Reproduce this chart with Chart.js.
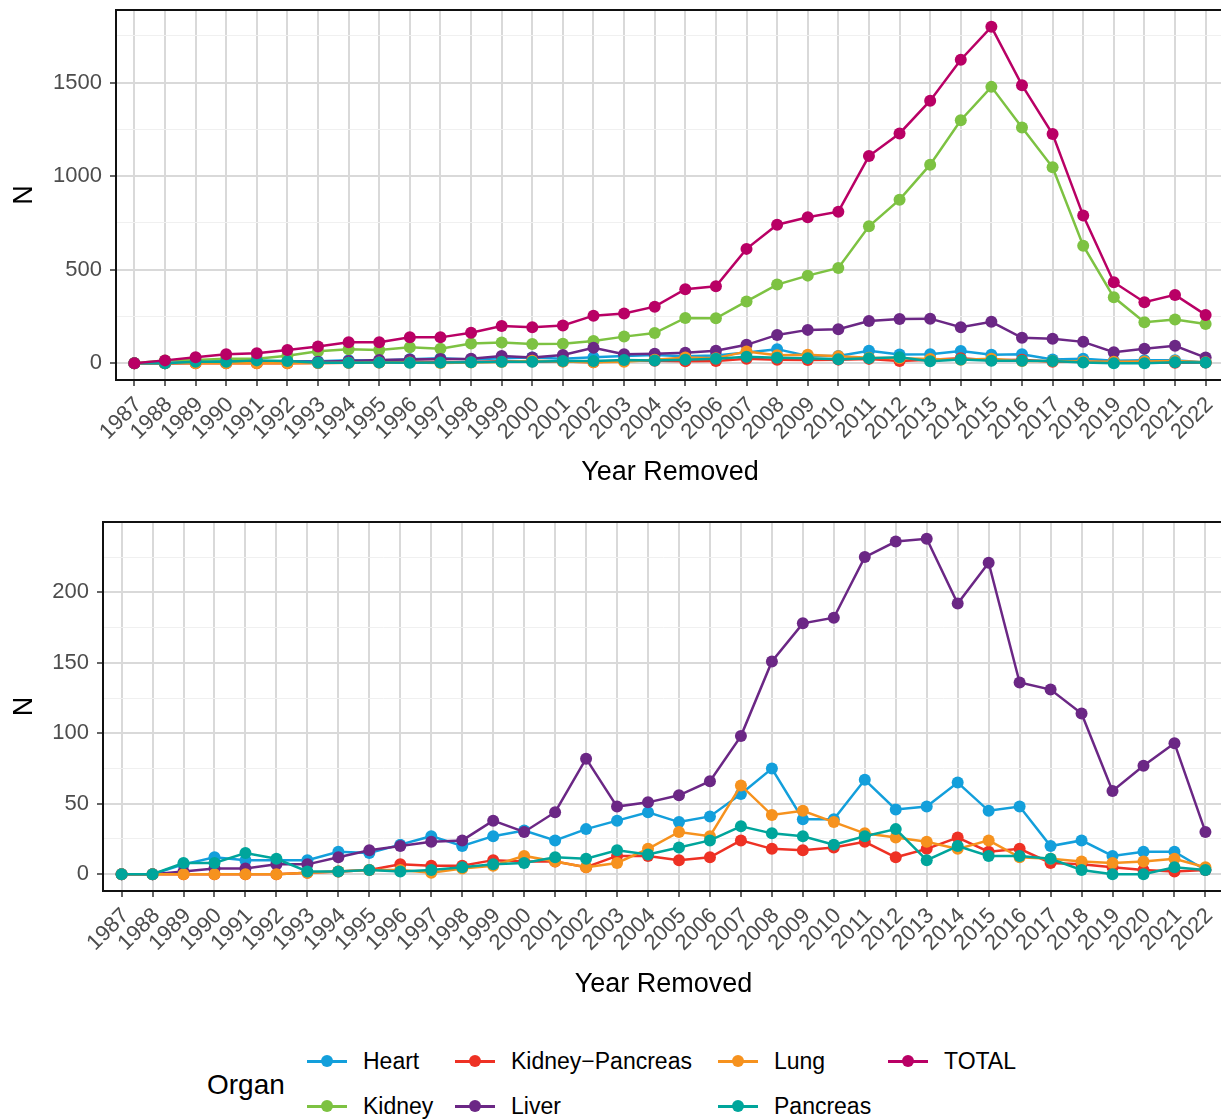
<!DOCTYPE html>
<html>
<head>
<meta charset="utf-8">
<script src="https://cdn.jsdelivr.net/npm/chart.js@4.4.1/dist/chart.umd.min.js"></script>
<style>
  html, body { margin: 0; padding: 0; background: #fff; overflow: hidden; }
  body { width: 1221px; height: 1119px; position: relative; font-family: "Liberation Sans", Arial, sans-serif; }
  canvas { position: absolute; left: 0; }
  #topChart { top: 0; }
  #bottomChart { top: 500px; }
  .ltitle { position: absolute; left: 207px; top: 1085px; transform: translateY(-50%); font-size: 28px; color: #000; }
  .item { position: absolute; height: 30px; display: flex; align-items: center; font-size: 23px; color: #000; white-space: nowrap; }
  .key { position: relative; width: 40px; height: 30px; margin-right: 16px; }
  .key .ln { position: absolute; left: 0; right: 0; top: 14px; height: 3px; }
  .key .dt { position: absolute; left: 14px; top: 9px; width: 12px; height: 12px; border-radius: 50%; }
</style>
</head>
<body>
<!-- the panels run a few pixels past the right edge of the window, as in the original -->
<canvas id="topChart" width="1224" height="500"></canvas>
<canvas id="bottomChart" width="1224" height="520"></canvas>
<div id="legend"></div>
<script>
// Data
const years = [1987, 1988, 1989, 1990, 1991, 1992, 1993, 1994, 1995, 1996, 1997, 1998,
  1999, 2000, 2001, 2002, 2003, 2004, 2005, 2006, 2007, 2008, 2009, 2010,
  2011, 2012, 2013, 2014, 2015, 2016, 2017, 2018, 2019, 2020, 2021, 2022];

const heart = [0, 0, 7, 12, 10, 10, 10, 16, 15, 21, 27, 20,
  27, 31, 24, 32, 38, 44, 37, 41, 57, 75, 39, 39,
  67, 46, 48, 65, 45, 48, 20, 24, 13, 16, 16, 3];
const kidney = [0, 15, 17, 24, 24, 40, 64, 75, 71, 85, 77, 105,
  111, 102, 104, 119, 142, 161, 242, 240, 330, 420, 468, 509,
  732, 874, 1061, 1299, 1477, 1260, 1047, 628, 352, 219, 233, 210];
const kidneyPancreas = [0, 0, 0, 0, 0, 0, 1, 2, 3, 7, 6, 6,
  10, 9, 9, 5, 13, 13, 10, 12, 24, 18, 17, 19,
  23, 12, 18, 26, 16, 18, 8, 7, 5, 3, 2, 3];
const liver = [0, 0, 2, 4, 4, 7, 7, 12, 17, 20, 23, 24,
  38, 30, 44, 82, 48, 51, 56, 66, 98, 151, 178, 182,
  225, 236, 238, 192, 221, 136, 131, 114, 59, 77, 93, 30];
const lung = [0, 0, 0, 0, 0, 0, 1, 2, 3, 3, 1, 4,
  6, 13, 9, 5, 8, 18, 30, 27, 63, 42, 45, 37,
  29, 26, 23, 18, 24, 12, 11, 9, 8, 9, 11, 5];
const pancreas = [0, 0, 8, 8, 15, 11, 2, 2, 3, 2, 3, 5,
  7, 8, 12, 11, 17, 14, 19, 24, 34, 29, 27, 21,
  27, 32, 10, 20, 13, 13, 11, 3, 0, 0, 5, 3];
const total = [0, 15, 32, 48, 53, 71, 89, 112, 112, 138, 138, 163,
  199, 192, 202, 254, 266, 302, 395, 411, 611, 740, 780, 810,
  1107, 1228, 1403, 1622, 1798, 1486, 1225, 789, 433, 326, 365, 258];

const topMajor = [0, 500, 1000, 1500];
const topMinor = [250, 750, 1250, 1750];
const bottomMajor = [0, 50, 100, 150, 200];
const bottomMinor = [25, 75, 125, 175, 225];

const series = {
  'Heart': heart,
  'Kidney': kidney,
  'Kidney-Pancreas': kidneyPancreas,
  'Liver': liver,
  'Lung': lung,
  'Pancreas': pancreas,
  'TOTAL': total
};
const colors = {
  'Heart': '#139FDB',
  'Kidney': '#7DC242',
  'Kidney-Pancreas': '#EE3124',
  'Liver': '#6B2785',
  'Lung': '#F6921E',
  'Pancreas': '#00A59B',
  'TOTAL': '#B90065'
};

const family = '"Liberation Sans", Arial, sans-serif';

// ggplot-style box around the panel
const panelBorder = {
  id: 'panelBorder',
  afterDatasetsDraw(chart) {
    const { ctx, chartArea: a } = chart;
    ctx.save();
    ctx.strokeStyle = '#111';
    ctx.lineWidth = 2;
    ctx.strokeRect(a.left, a.top, a.right - a.left, a.bottom - a.top);
    ctx.restore();
  }
};

function makeChart(id, names, o) {
  const datasets = names.map((name, i) => ({
    label: name,
    data: years.map((y, j) => ({ x: y, y: series[name][j] })),
    borderColor: colors[name],
    backgroundColor: colors[name],
    pointBackgroundColor: colors[name],
    pointBorderWidth: 0,
    pointRadius: 6,
    borderWidth: 2.5,
    order: names.length - i
  }));
  const yTicks = o.major.concat(o.minor).sort((a, b) => a - b);

  new Chart(document.getElementById(id), {
    type: 'line',
    data: { datasets },
    options: {
      responsive: false,
      animation: false,
      layout: { autoPadding: false, padding: { top: o.padTop, right: 0, bottom: 0, left: 0 } },
      plugins: { legend: { display: false }, tooltip: { enabled: false } },
      scales: {
        x: {
          type: 'linear',
          min: 1986.4,
          max: 2022.6,
          afterBuildTicks: s => { s.ticks = years.map(v => ({ value: v })); },
          afterFit: s => { s.height = o.xHeight; s.paddingLeft = 0; s.paddingRight = 0; },
          border: { display: false },
          grid: { color: '#d9d9d9', lineWidth: 2, tickColor: '#333', tickLength: 6, tickWidth: 1.5 },
          ticks: {
            autoSkip: false, minRotation: 45, maxRotation: 45, padding: 6, labelOffset: 4,
            color: '#4d4d4d', font: { size: 22, family },
            callback: v => String(v)
          },
          title: {
            display: true, text: 'Year Removed', color: '#000',
            font: { size: 27, family }, padding: { top: 0, bottom: o.titlePad }
          }
        },
        y: {
          min: o.yMin,
          max: o.yMax,
          afterBuildTicks: s => { s.ticks = yTicks.map(v => ({ value: v })); },
          afterFit: s => { s.width = o.yWidth; s.paddingTop = 0; s.paddingBottom = 0; },
          border: { display: false },
          grid: {
            color: c => o.major.includes(c.tick.value) ? '#d9d9d9' : '#f0f0f0',
            lineWidth: c => o.major.includes(c.tick.value) ? 2 : 1,
            tickColor: c => o.major.includes(c.tick.value) ? '#333' : 'rgba(0,0,0,0)',
            tickLength: 6, tickWidth: 1.5
          },
          ticks: {
            autoSkip: false, padding: 8, color: '#4d4d4d', font: { size: 22, family },
            callback: v => o.major.includes(v) ? String(v) : ''
          },
          title: {
            display: true, text: 'N', color: '#000',
            font: { size: 27, family }, padding: { top: 8, bottom: 0 }
          }
        }
      }
    },
    plugins: [panelBorder]
  });
}

makeChart('topChart', ['Heart', 'Kidney', 'Kidney-Pancreas', 'Liver', 'Lung', 'Pancreas', 'TOTAL'], {
  yMin: -89.9, yMax: 1887.9,
  major: topMajor, minor: topMinor,
  padTop: 10, xHeight: 120, titlePad: 11, yWidth: 116
});

makeChart('bottomChart', ['Heart', 'Kidney-Pancreas', 'Liver', 'Lung', 'Pancreas'], {
  yMin: -11.9, yMax: 249.9,
  major: bottomMajor, minor: bottomMinor,
  padTop: 22, xHeight: 129, titlePad: 19, yWidth: 103
});

// Legend, laid out like ggplot's two-row guide
const legendRows = [['Heart', 'Kidney-Pancreas', 'Lung', 'TOTAL'], ['Kidney', 'Liver', 'Pancreas']];
const colLeft = [307, 455, 718, 888];
const rowCenter = [1061, 1106];
const legend = document.getElementById('legend');
const lt = document.createElement('div');
lt.className = 'ltitle';
lt.textContent = 'Organ';
legend.appendChild(lt);
legendRows.forEach((row, r) => {
  row.forEach((name, c) => {
    const item = document.createElement('div');
    item.className = 'item';
    item.style.left = colLeft[c] + 'px';
    item.style.top = (rowCenter[r] - 15) + 'px';
    item.innerHTML = '<span class="key"><span class="ln" style="background:' + colors[name] + '"></span>' +
      '<span class="dt" style="background:' + colors[name] + '"></span></span>' +
      '<span>' + name.replace('-', '\u2212') + '</span>';
    legend.appendChild(item);
  });
});
</script>
</body>
</html>
